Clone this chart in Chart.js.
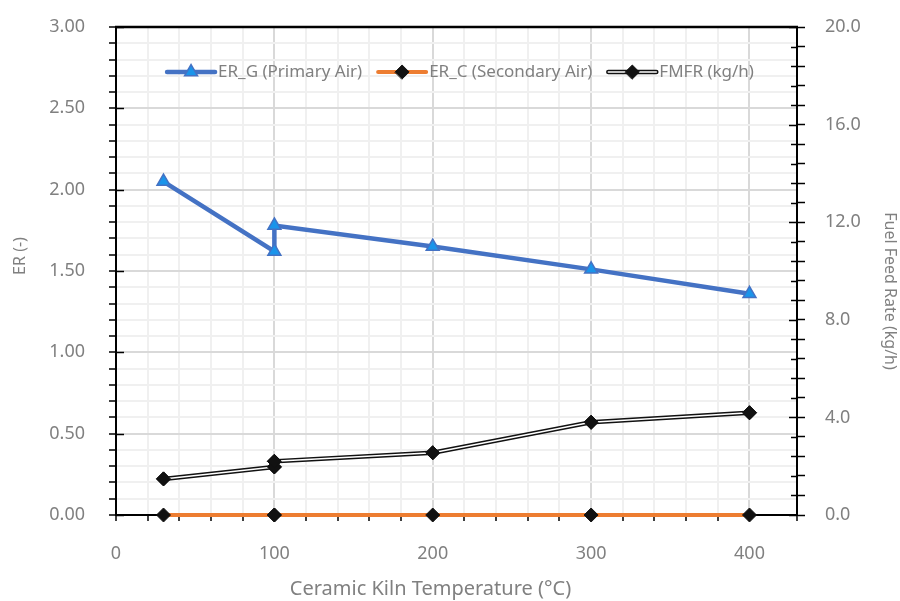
<!DOCTYPE html>
<html>
<head>
<meta charset="utf-8">
<script src="https://cdn.jsdelivr.net/npm/chart.js@4.4.0/dist/chart.umd.min.js"></script>
<style>
  body { margin: 0; background: #fff; }
</style>
</head>
<body>
<canvas id="grafico" width="900" height="601"></canvas>
<script>
// Dados (o ponto de 100 °C aparece duas vezes)
const temperaturas = [30, 100, 100, 200, 300, 400];
const erG = [2.05, 1.62, 1.78, 1.65, 1.51, 1.36];
const erC = [0, 0, 0, 0, 0, 0];
const fmfr = [1.48, 1.97, 2.2, 2.55, 3.8, 4.19];
const nomesSeries = ['ER_G (Primary Air)', 'ER_C (Secondary Air)', 'FMFR (kg/h)'];
const tituloX = 'Ceramic Kiln Temperature (°C)';
const tituloY = 'ER (-)';
const tituloY1 = 'Fuel Feed Rate (kg/h)';

const fonte = '"Noto Sans", sans-serif';
const cinzaTexto = '#808080';

const pontos = valores => temperaturas.map((t, i) => ({ x: t, y: valores[i] }));

// Marcas principais de cada eixo
const principalX = v => v % 100 === 0;
const principalY = v => Math.round(v * 10) % 5 === 0;
const principalY1 = v => Math.abs(v / 4 - Math.round(v / 4)) < 1e-6;

// Desenha triângulo ou losango (mesma geometria do Chart.js)
function desenharMarcador(ctx, estilo, cx, cy, r, preenchimento, contorno, largura) {
    ctx.beginPath();
    if (estilo === 'triangle') {
        ctx.moveTo(cx, cy - r);
        ctx.lineTo(cx + r * Math.sin(2 * Math.PI / 3), cy + r / 2);
        ctx.lineTo(cx - r * Math.sin(2 * Math.PI / 3), cy + r / 2);
    } else {
        ctx.moveTo(cx - r, cy);
        ctx.lineTo(cx, cy - r);
        ctx.lineTo(cx + r, cy);
        ctx.lineTo(cx, cy + r);
    }
    ctx.closePath();
    ctx.fillStyle = preenchimento;
    ctx.fill();
    ctx.lineWidth = largura;
    ctx.strokeStyle = contorno;
    ctx.stroke();
}

// Texto girado (títulos dos eixos verticais)
function textoGirado(ctx, texto, x, y, angulo) {
    ctx.save();
    ctx.translate(x, y);
    ctx.rotate(angulo);
    ctx.fillText(texto, 0, 0);
    ctx.restore();
}

// Legenda dentro da área do gráfico, estilo Excel (linha + marcador)
const legenda = {
    id: 'legenda',
    afterDatasetsDraw(chart) {
        const ctx = chart.ctx;
        const area = chart.chartArea;
        const amostra = 48;
        const espaco = 16;
        ctx.save();
        ctx.font = '17px ' + fonte;
        const itens = chart.data.datasets.map(ds => ({ ds, w: amostra + 3 + ctx.measureText(ds.label).width }));
        const total = itens.reduce((s, it) => s + it.w, 0) + espaco * (itens.length - 1);
        let x = (area.left + area.right) / 2 + 4 - total / 2;
        const y = area.top + 45;
        itens.forEach(it => {
            const ds = it.ds;
            ctx.beginPath();
            ctx.moveTo(x, y);
            ctx.lineTo(x + amostra, y);
            ctx.lineWidth = ds.borderWidth;
            ctx.strokeStyle = ds.borderColor;
            ctx.lineCap = 'round';
            ctx.stroke();
            if (ds.linhaDupla) {
                ctx.lineWidth = 1.5;
                ctx.strokeStyle = '#fff';
                ctx.stroke();
            }
            desenharMarcador(ctx, ds.pointStyle, x + amostra / 2, y, ds.pointRadius,
                ds.pointBackgroundColor, ds.pointBorderColor, ds.pointBorderWidth);
            ctx.fillStyle = cinzaTexto;
            ctx.textBaseline = 'middle';
            ctx.textAlign = 'left';
            ctx.fillText(ds.label, x + amostra + 3, y);
            x += it.w + espaco;
        });
        ctx.restore();
    }
};

// Linha dupla (preta com miolo branco) da série FMFR
const linhaDupla = {
    id: 'linhaDupla',
    afterDatasetDraw(chart, args) {
        const ds = chart.data.datasets[args.index];
        if (!ds.linhaDupla) return;
        const ctx = chart.ctx;
        const pts = args.meta.data;
        ctx.save();
        ctx.strokeStyle = '#fff';
        ctx.lineWidth = 1.5;
        ctx.lineJoin = 'round';
        ctx.beginPath();
        pts.forEach((p, i) => i ? ctx.lineTo(p.x, p.y) : ctx.moveTo(p.x, p.y));
        ctx.stroke();
        pts.forEach(p => p.draw(ctx, chart.chartArea));
        ctx.restore();
    }
};

// Borda superior, marcas internas dos eixos verticais e títulos dos eixos
const moldura = {
    id: 'moldura',
    beforeDatasetsDraw(chart) {
        const { ctx, chartArea: a, scales } = chart;
        ctx.save();
        ctx.strokeStyle = '#000';
        ctx.lineWidth = 1.5;
        scales.y.ticks.forEach(t => {
            if (!principalY(t.value)) return;
            const py = Math.round(scales.y.getPixelForValue(t.value)) + 0.5;
            ctx.beginPath(); ctx.moveTo(a.left, py); ctx.lineTo(a.left + 8, py); ctx.stroke();
        });
        scales.y1.ticks.forEach(t => {
            const py = Math.round(scales.y1.getPixelForValue(t.value)) + 0.5;
            const comp = principalY1(t.value) ? 8 : 6;
            ctx.beginPath(); ctx.moveTo(a.right, py); ctx.lineTo(a.right - comp, py); ctx.stroke();
        });
        ctx.lineWidth = 2.5;
        ctx.beginPath(); ctx.moveTo(a.left - 1, a.top); ctx.lineTo(a.right + 1, a.top); ctx.stroke();

        // títulos dos eixos, nas posições do original (não exatamente centrados)
        const meio = (a.top + a.bottom) / 2;
        ctx.fillStyle = cinzaTexto;
        ctx.textAlign = 'center';
        ctx.textBaseline = 'middle';
        ctx.font = '20px ' + fonte;
        ctx.fillText(tituloX, (a.left + a.right) / 2 - 26, chart.height - 12);
        ctx.font = '16px ' + fonte;
        textoGirado(ctx, tituloY, 20, meio - 15, -Math.PI / 2);
        textoGirado(ctx, tituloY1, chart.width - 10, meio + 20, Math.PI / 2);
        ctx.restore();
    }
};

const ctxGrafico = document.getElementById('grafico').getContext('2d');
new Chart(ctxGrafico, {
    type: 'line',
    data: {
        datasets: [{
            label: nomesSeries[0],
            data: pontos(erG),
            yAxisID: 'y',
            borderColor: '#4472C4',
            borderWidth: 4.5,
            pointStyle: 'triangle',
            pointRadius: 7.5,
            pointBackgroundColor: '#1a94ea',
            pointBorderColor: '#4472C4',
            pointBorderWidth: 1.5,
            clip: false
        }, {
            label: nomesSeries[1],
            data: pontos(erC),
            yAxisID: 'y',
            borderColor: '#ED7D31',
            borderWidth: 4,
            pointStyle: 'rectRot',
            pointRadius: 7,
            pointBackgroundColor: '#111',
            pointBorderColor: '#111',
            pointBorderWidth: 1,
            clip: false
        }, {
            label: nomesSeries[2],
            data: pontos(fmfr),
            yAxisID: 'y1',
            borderColor: '#111',
            borderWidth: 4.5,
            linhaDupla: true,
            pointStyle: 'rectRot',
            pointRadius: 7,
            pointBackgroundColor: '#111',
            pointBorderColor: '#111',
            pointBorderWidth: 1,
            clip: false
        }]
    },
    options: {
        responsive: false,
        animation: false,
        events: [],
        layout: { padding: { top: 27, left: 0, right: 0, bottom: 0 } },
        elements: { line: { tension: 0 } },
        plugins: {
            legend: { display: false },
            tooltip: { enabled: false }
        },
        scales: {
            x: {
                type: 'linear',
                position: 'bottom',
                min: 0,
                max: 430,
                border: { display: true, color: '#000', width: 2 },
                grid: {
                    color: c => c.tick && principalX(c.tick.value) ? '#d9d9d9' : '#f0f0f0',
                    lineWidth: 2,
                    tickColor: '#000',
                    tickWidth: 1.5,
                    tickLength: 6
                },
                ticks: {
                    stepSize: 20,
                    autoSkip: false,
                    maxRotation: 0,
                    padding: 22,
                    color: cinzaTexto,
                    font: { size: 18, family: fonte },
                    callback: v => principalX(v) && v <= 400 ? String(v) : ''
                },
                title: { display: false },
                afterFit: s => { s.height = 86; }
            },
            y: {
                type: 'linear',
                position: 'left',
                min: 0,
                max: 3,
                border: { display: true, color: '#000', width: 2 },
                grid: {
                    color: c => c.tick && principalY(c.tick.value) ? '#d9d9d9' : '#f0f0f0',
                    lineWidth: 2,
                    tickColor: '#000',
                    tickWidth: 1.5,
                    tickLength: 7
                },
                ticks: {
                    stepSize: 0.1,
                    autoSkip: false,
                    padding: 24,
                    color: cinzaTexto,
                    font: { size: 18, family: fonte },
                    callback: v => principalY(v) ? v.toFixed(2) : ''
                },
                title: { display: false },
                afterFit: s => { s.width = 116; s.paddingTop = 0; s.paddingBottom = 0; }
            },
            y1: {
                type: 'linear',
                position: 'right',
                min: 0,
                max: 20,
                border: { display: true, color: '#000', width: 2 },
                grid: {
                    drawOnChartArea: false,
                    tickColor: '#000',
                    tickWidth: 1.5,
                    tickLength: 8
                },
                ticks: {
                    stepSize: 0.8,
                    autoSkip: false,
                    padding: 20,
                    color: cinzaTexto,
                    font: { size: 18, family: fonte },
                    callback: v => principalY1(v) ? v.toFixed(1) : ''
                },
                title: { display: false },
                afterFit: s => { s.width = 103; s.paddingTop = 0; s.paddingBottom = 0; }
            }
        }
    },
    plugins: [moldura, linhaDupla, legenda]
});
</script>
</body>
</html>
